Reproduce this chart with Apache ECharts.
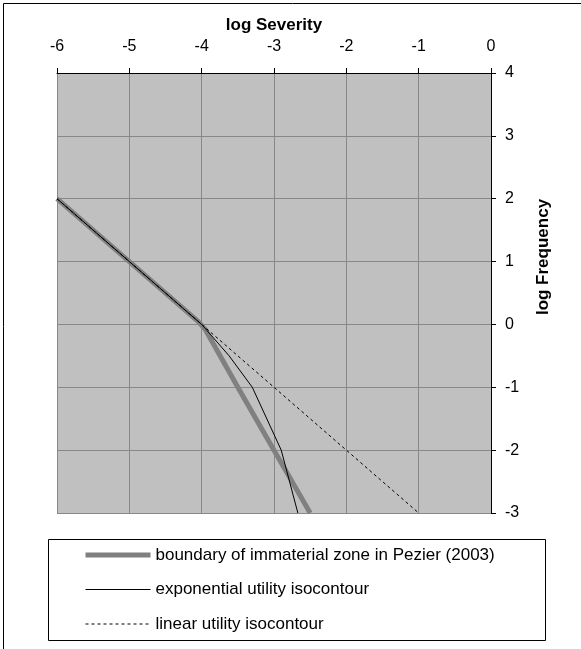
<!DOCTYPE html>
<html>
<head>
<meta charset="utf-8">
<script src="https://cdn.jsdelivr.net/npm/echarts@6/dist/echarts.min.js"></script>
<style>html,body{margin:0;padding:0;background:#fff;}#c{width:581px;height:649px;}</style>
</head>
<body>
<div id="c"></div>
<script>
var xTicks = [-6, -5, -4, -3, -2, -1, 0];
var yTicks = [-3, -2, -1, 0, 1, 2, 3, 4];
var seriesNames = ['boundary of immaterial zone in Pezier (2003)', 'exponential utility isocontour', 'linear utility isocontour'];
var pezier = [[-6, 2], [-5, 1], [-4.05, 0.05], [-3.95, -0.08], [-3.5, -1], [-3, -2], [-2.5, -3]];
var exponential = [[-6, 2], [-5, 1], [-4, 0], [-3.62, -0.5], [-3.3, -1], [-2.9, -2], [-2.67, -3]];
var linear = [[-6, 2], [-4, 0], [-3, -1], [-2, -2], [-1, -3]];

var font = 'Liberation Sans, Arial, sans-serif';
var hiddenSymbol = { color: 'transparent', opacity: 0, borderWidth: 0 };
var chart = echarts.init(document.getElementById('c'));
chart.setOption({
  animation: false,
  backgroundColor: '#fff',
  grid: { left: 57, right: 90, top: 73, bottom: 136, show: true, backgroundColor: '#c0c0c0', borderWidth: 0 },
  xAxis: {
    type: 'value', position: 'top', min: xTicks[0], max: xTicks[xTicks.length - 1], interval: 1,
    name: 'log Severity', nameLocation: 'middle', nameGap: 37,
    nameTextStyle: { fontFamily: font, fontSize: 17, fontWeight: 'bold', color: '#000' },
    axisLine: { show: true, onZero: false, lineStyle: { color: '#000', width: 1 } },
    axisTick: { show: true, length: 5, lineStyle: { color: '#000' } },
    axisLabel: { fontFamily: font, fontSize: 16, color: '#000', margin: 18 },
    splitLine: { show: true, lineStyle: { color: '#888', width: 1 } }
  },
  yAxis: {
    type: 'value', position: 'right', min: yTicks[0], max: yTicks[yTicks.length - 1], interval: 1,
    axisLine: { show: true, onZero: false, lineStyle: { color: '#000', width: 1 } },
    axisTick: { show: true, length: 5, lineStyle: { color: '#000' } },
    axisLabel: { fontFamily: font, fontSize: 16, color: '#000', margin: 14 },
    splitLine: { show: true, lineStyle: { color: '#888', width: 1 } }
  },
  legend: {
    orient: 'vertical', left: 83, top: 546, itemWidth: 65, itemHeight: 14, itemGap: 16.5,
    padding: 0,
    textStyle: { fontFamily: font, fontSize: 17, color: '#000', lineHeight: 18 },
    data: [
      { name: seriesNames[0], itemStyle: hiddenSymbol, lineStyle: { color: '#808080', width: 5 } },
      { name: seriesNames[1], itemStyle: hiddenSymbol, lineStyle: { color: '#000', width: 1 } },
      { name: seriesNames[2], itemStyle: hiddenSymbol, lineStyle: { color: '#000', width: 1, type: [3, 3] } }
    ]
  },
  graphic: [
    { type: 'rect', left: 1, top: 1, shape: { width: 578, height: 646 }, style: { fill: 'none', stroke: '#000', lineWidth: 1 }, z: -1 },
    { type: 'rect', shape: { x: 48.5, y: 539.5, width: 497, height: 101 }, style: { fill: '#fff', stroke: '#000', lineWidth: 1 }, z: -1 },
    { type: 'text', x: 543, y: 257, rotation: Math.PI / 2, style: { text: 'log Frequency', font: 'bold 17px ' + font, fill: '#000', textAlign: 'center', textVerticalAlign: 'middle' } }
  ],
  series: [
    { name: seriesNames[0], type: 'line', data: pezier, symbol: 'none', z: 2, lineStyle: { color: '#808080', width: 5 }, itemStyle: { color: '#808080' } },
    { name: seriesNames[1], type: 'line', data: exponential, symbol: 'none', z: 4, lineStyle: { color: '#000', width: 1 }, itemStyle: { color: '#000' } },
    { name: seriesNames[2], type: 'line', data: linear, symbol: 'none', z: 3, lineStyle: { color: '#000', width: 1, type: [3, 3] }, itemStyle: { color: '#000' } }
  ]
});
</script>
</body>
</html>
